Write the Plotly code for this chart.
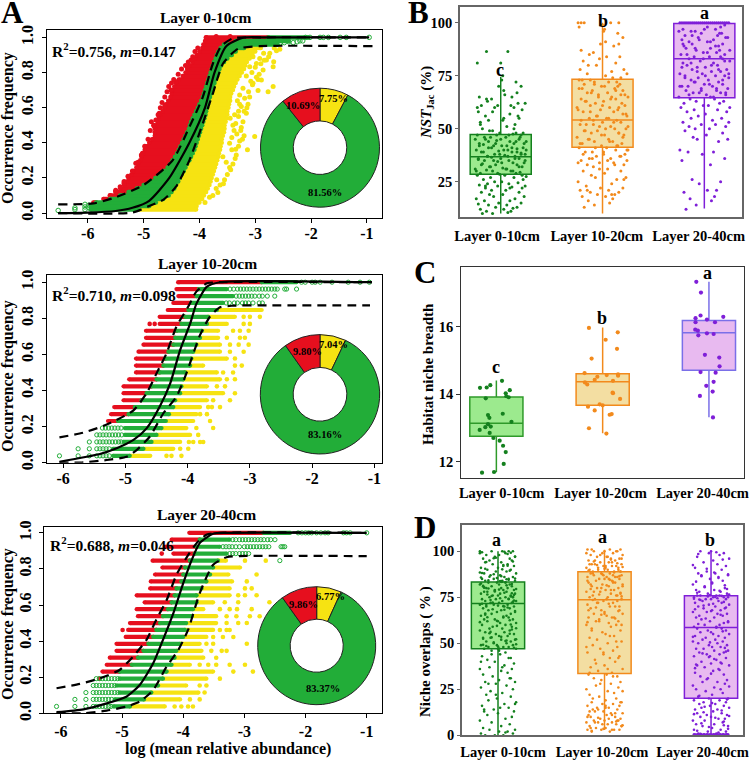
import plotly.graph_objects as go

W, H = 750, 760
SERIF = "Liberation Serif"
RED, GRN, YEL = "#e60f1e", "#22ad38", "#f6e312"
C_G, C_O, C_P = "#14801e", "#f28a1c", "#7f1fd8"
F_G, F_O, F_P = "#9cea8e", "#f3dea2", "#e8baf0"

layers = ["Layer 0-10cm", "Layer 10-20cm", "Layer 20-40cm"]

# ---------- Panel A: neutral-model fit curves ----------
a1_fit_x = [-6.53, -6, -5.5, -5.2, -4.9, -4.54, -4.18, -3.9, -3.73, -3.52, -3.22, -2.8, -0.96]
a1_fit_y = [0, .003, .012, .03, .07, .2, .4, .6, .8, .95, .998, 1, 1]
a1_up_x = [-6.53, -5.9, -5.5, -5.0, -4.48, -4.18, -3.94, -3.76, -3.61, -3.4, -3.0, -0.96]
a1_up_y = [.05, .055, .09, .16, .3, .49, .66, .85, .95, .995, 1, 1]
a1_lo_x = [-6.53, -5.2, -4.9, -4.65, -4.42, -4.18, -3.94, -3.76, -3.58, -3.31, -2.92, -0.9]
a1_lo_y = [0, .003, .04, .075, .15, .3, .51, .68, .85, .935, .95, .95]

a2_fit_x = [-6.06, -5.41, -5.14, -4.87, -4.66, -4.45, -4.28, -4.12, -3.96, -3.86, -3.69, -3.48, -1.04]
a2_fit_y = [.005, .048, .08, .126, .19, .31, .44, .625, .77, .88, .975, 1, 1]
a2_up_x = [-6.06, -5.68, -5.36, -5.14, -4.87, -4.66, -4.5, -4.34, -4.18, -3.99, -3.86, -3.69, -3.48, -1.04]
a2_up_y = [.14, .166, .203, .237, .29, .385, .495, .606, .754, .865, .948, .994, 1, 1]
a2_lo_x = [-6.06, -5.7, -5.3, -4.98, -4.82, -4.61, -4.39, -4.18, -4.02, -3.8, -3.64, -3.48, -3.27, -2.73, -1.07]
a2_lo_y = [.002, .001, .015, .033, .07, .144, .274, .366, .495, .708, .81, .861, .87, .872, .872]

a3_fit_x = [-6.07, -5.63, -5.25, -4.93, -4.71, -4.49, -4.33, -4.16, -4.0, -3.86, -3.73, -3.51, -3.29, -1.0]
a3_fit_y = [.006, .022, .055, .092, .157, .277, .407, .555, .72, .85, .943, .995, 1, 1]
a3_up_x = [-6.07, -5.69, -5.36, -5.04, -4.82, -4.6, -4.44, -4.27, -4.11, -3.95, -3.78, -3.62, -3.4, -1.0]
a3_up_y = [.139, .163, .194, .24, .314, .407, .518, .628, .767, .86, .943, .989, 1, 1]
a3_lo_x = [-6.07, -5.63, -5.25, -4.93, -4.71, -4.49, -4.27, -4.08, -3.92, -3.73, -3.51, -3.29, -2.96, -1.0]
a3_lo_y = [.002, 0, .015, .037, .065, .129, .259, .351, .462, .665, .823, .865, .872, .871]

# ---------- Panel A top: rows of occurrence frequency ----------
a1_levels = [.02, .04, .06, .08, .10, .12, .14, .16, .18, .20, .22, .24, .26, .28, .30, .32, .34, .36, .38, .40, .42, .44, .46, .48, .50,
             .52, .54, .56, .58, .60, .62, .64, .66, .68, .70, .72, .74, .76, .78, .80, .82, .84, .86, .88, .90, .92, .94, .96, .98, 1.0]
a1_red_start = [None, None, -5.9, -5.72, -5.6, -5.5, -5.42, -5.35, -5.3, -5.27, -5.22, -5.18, -5.13, -5.1, -5.06, -5.04, -5.0, -4.98, -4.95, -4.9,
                -4.85, -4.8, -4.8, -4.8, -4.78, -4.75, -4.73, -4.7, -4.66, -4.63, -4.6, -4.56, -4.52, -4.5, -4.48, -4.45, -4.42, -4.37, -4.3, -4.25,
                -4.22, -4.18, -4.12, -4.08, -4.05, -4.0, -3.95, -3.93, -3.9, -3.88]
a1_green_start = [-5.95, -5.95, -5.85, -5.6, -5.42, -5.27, -5.12, -5.0, -4.88, -4.79, -4.71, -4.64, -4.57, -4.52, -4.48, -4.44, -4.4, -4.37, -4.34, -4.31,
                  -4.28, -4.25, -4.22, -4.19, -4.17, -4.15, -4.12, -4.09, -4.06, -4.03, -4.0, -3.97, -3.94, -3.92, -3.9, -3.88, -3.86, -3.84, -3.82, -3.8,
                  -3.78, -3.76, -3.74, -3.71, -3.69, -3.66, -3.62, -3.56, -3.35, -2.77]
a1_green_end = [-5.1, -4.9, -4.78, -4.65, -4.55, -4.5, -4.45, -4.42, -4.38, -4.35, -4.32, -4.28, -4.25, -4.22, -4.18, -4.15, -4.12, -4.09, -4.07, -4.05,
                -4.03, -4.01, -3.99, -3.97, -3.95, -3.93, -3.91, -3.89, -3.88, -3.86, -3.85, -3.83, -3.81, -3.79, -3.77, -3.75, -3.73, -3.71, -3.68, -3.66,
                -3.64, -3.61, -3.56, -3.5, -3.42, -3.35, -3.2, -2.6, -2.4, -2.05]
a1_yellow_end = [-4.06, -4.05, -4.0, -3.95, -3.92, -3.88, -3.85, -3.82, -3.8, -3.78, -3.76, -3.74, -3.72, -3.7, -3.68, -3.66, -3.65, -3.63, -3.62, -3.6,
                 -3.6, -3.58, -3.56, -3.55, -3.55, -3.53, -3.52, -3.5, -3.5, -3.48, -3.47, -3.45, -3.45, -3.43, -3.4, -3.38, -3.35, -3.32, -3.28, -3.24,
                 -3.2, -3.18, -3.15, -3.1, -3.05, -3.0, -2.9, None, None, None]
a1_yellow_far_x = [-3.67, -3.57, -3.69, -3.44, -3.52, -3.58, -3.34, -3.35, -3.14, -3.46, -3.23, -3.01, -3.2, -3.25, -3.4, -3.37, -3.16, -3.25, -3.13, -3.19,
                   -3.28, -2.95, -2.77, -2.68, -3.04, -2.89, -2.98, -3.16, -2.68, -2.67, -2.86, -2.8, -2.92, -2.74, -2.62, -2.56, -2.98, -3.1, -3.04,
                   -3.9, -3.82, -3.76, -3.7, -3.63, -3.55, -3.5, -3.46, -3.4, -3.36, -3.42, -3.3, -3.28, -3.33, -3.26, -3.22, -3.3, -3.2, -3.15, -3.32,
                   -3.1, -3.22, -3.05, -2.95, -3.06, -3.0, -2.9, -2.84, -2.76, -2.66, -3.42, -3.38, -3.35, -3.45, -3.3, -3.28, -3.12, -3.08, -2.93, -2.85]
a1_yellow_far_y = [.117, .167, .19, .246, .29, .32, .33, .364, .36, .398, .42, .436, .44, .487, .5, .56, .568, .606, .62, .653,
                   .672, .697, .69, .72, .739, .758, .773, .78, .833, .862, .814, .871, .88, .909, .924, .932, .852, .833, .89,
                   .06, .09, .1, .14, .16, .19, .22, .26, .28, .31, .36, .38, .41, .45, .47, .52, .55, .58, .6, .64,
                   .66, .71, .73, .76, .8, .83, .85, .87, .89, .94, .43, .47, .51, .54, .58, .62, .69, .75, .79, .91]
a1_red_far_x = [-4.51, -4.42, -4.21, -4.15, -4.62, -4.72, -4.81, -5.02, -5.14, -5.35, -5.5, -3.88, -3.7, -3.6, -3.45,
                -5.7, -5.6, -5.5, -5.42, -5.35, -5.28, -5.2, -5.1, -5.04, -4.98, -4.92, -4.88, -4.86, -4.82, -4.78, -4.74, -4.7, -4.67, -4.62, -4.58,
                -4.55, -4.5, -4.46, -4.38, -4.32, -4.25, -4.2, -4.12, -4.08, -4.03]
a1_red_far_y = [.7, .748, .833, .871, .61, .568, .496, .341, .284, .17, .123, 1.0, 1.005, .99, 1.005,
                .075, .1, .13, .15, .18, .21, .24, .29, .33, .38, .42, .47, .52, .5, .53, .56, .6, .63, .66, .69,
                .72, .74, .76, .79, .82, .84, .86, .89, .92, .94]
a1_open_x = [-6.53, -6.23, -6.23, -6.05, -6.05, -6.05, -5.98, -5.98, -2.55, -2.48, -2.4, -2.32, -2.25, -2.2, -2.15, -2.1, -2.02, -1.84, -1.78, -1.69, -1.48, -1.37, -0.96]
a1_open_y = [.015, .02, .03, .02, .035, .05, .03, .045, .97, .97, .975, .97, .975, .98, .98, 1, 1, 1, 1, 1, 1, 1, 1]

occ_levels = [.038, .077, .115, .154, .192, .231, .269, .308, .346, .385, .423, .462, .5, .538, .577, .615, .654, .692, .731, .769, .808, .846, .885, .923, .962, 1.0]

a2_red_start = [None, None, None, None, None, -5.28, -5.23, -5.18, -5.03, -5.03, -5.03, -4.94, -4.83, -4.83, -4.83, -4.79, -4.71, -4.67, -4.67, -4.45, -4.45, -4.32, -4.23, -4.15, -4.18, -4.13]
a2_green_start = [-5.2, -5.2, -5.03, -5.01, -5.01, -5.12, -4.95, -4.85, -4.74, -4.66, -4.58, -4.5, -4.45, -4.39, -4.36, -4.31, -4.23, -4.2, -4.18, -4.1, -4.04, -3.99, -3.94, -3.86, -3.82, -2.81]
a2_green_end = [-4.93, -4.71, -4.58, -4.5, -4.42, -4.35, -4.3, -4.23, -4.2, -4.12, -4.1, -4.07, -4.04, -3.96, -3.94, -3.91, -3.86, -3.8, -3.77, -3.69, -3.67, -3.53, -3.43, -3.27, -3.37, -2.25]
a2_yellow_end = [-4.6, -4.23, -4.12, -3.96, -4.02, -3.91, -3.86, -3.8, -3.69, -3.43, -3.69, -3.48, -3.53, -3.75, -3.37, -3.48, -3.48, -3.51, -3.51, -3.37, -3.24, -2.81, None, None, None, None]
a2_open = {1: [-6.06, -5.76, -5.58, -5.46, -5.41, -5.36, -5.31, -5.26], 2: [-5.76, -5.58, -5.46, -5.41, -5.36, -5.31, -5.26],
           3: [-5.58, -5.46, -5.41, -5.36, -5.31, -5.26, -5.21, -5.16, -5.11, -5.07], 4: [-5.46, -5.41, -5.36, -5.31, -5.26, -5.21, -5.16, -5.11, -5.06],
           5: [-5.37, -5.32, -5.27, -5.22, -5.17, -5.12, -5.07],
           23: [-3.38, -3.33, -3.25, -3.2, -3.12, -3.07, -3.02, -2.95, -2.85, -2.8],
           24: [-3.22, -3.17, -3.12, -3.07, -3.02, -2.97, -2.92, -2.85, -2.8, -2.72, -2.6],
           25: [-3.32, -3.26, -3.2, -3.15, -3.1, -3.05, -3, -2.95, -2.9, -2.85, -2.8, -2.75, -2.7, -2.65, -2.6, -2.56, -2.44, -2.41, -2.25],
           26: [-2.17, -2.11, -2.0, -1.95, -1.87, -1.68, -1.42, -1.23, -1.08]}
a2_yellow_far = {1: [-4.34, -4.26, -4.1], 2: [-3.99, -4.12], 3: [-3.98, -3.91, -3.8, -3.75], 4: [-3.83], 5: [-3.59, -3.86], 6: [-3.64], 7: [-3.69, -3.8],
                 8: [-3.48, -3.67, -3.61], 9: [-3.32, -3.59], 10: [-3.24], 11: [-3.4, -3.53], 12: [-3.24, -3.37], 13: [-3.27, -3.43], 14: [-3.13, -3.24], 15: [-3.24],
                 16: [-3.1, -3.32], 17: [-3.02, -3.18, -3.32], 18: [-3.08, -3.16, -3.37], 19: [-3.02, -3.16, -3.27], 20: [-3.0, -3.1], 21: [-2.84, -3.0, -3.1]}
a2_red_far = {20: [-4.61, -4.53], 26: [-4.15]}

a3_red_start = [None, None, None, None, None, -5.32, -5.25, -5.2, -5.09, -5.09, -4.94, -4.9, -4.87, -4.74, -4.76, -4.63, -4.76, -4.54, -4.53, -4.46, -4.34, -4.5, -4.16, -4.3, -4.19, -3.9]
a3_green_start = [-5.14, -5.12, -5.04, -5.09, -5.04, -5.04, -4.84, -4.74, -4.65, -4.57, -4.49, -4.44, -4.38, -4.33, -4.25, -4.19, -4.14, -4.11, -4.03, -4.0, -3.97, -3.89, -3.81, -3.78, -3.73, -2.69]
a3_green_end = [-4.87, -4.64, -4.52, -4.41, -4.33, -4.27, -4.19, -4.14, -4.11, -4.05, -4.0, -3.97, -3.95, -3.86, -3.84, -3.78, -3.78, -3.7, -3.62, -3.56, -3.51, -3.43, -3.29, -3.4, -3.24, -2.25]
a3_yellow_end = [-4.3, -4.05, -3.75, -3.95, -3.62, -3.51, -3.89, -3.67, -3.7, -3.73, -3.62, -3.51, -3.46, -3.46, -3.67, -3.51, -3.24, -3.24, -3.2, -3.26, -3.07, -3.3, None, None, None, None]
a3_open = {1: [-6.07, -5.77, -5.59, -5.47, -5.42, -5.37, -5.32, -5.27, -5.22, -5.18], 2: [-5.77, -5.59, -5.47, -5.42, -5.37, -5.32, -5.27, -5.22, -5.17],
           3: [-5.59, -5.47, -5.42, -5.37, -5.32, -5.27, -5.22, -5.17, -5.12, -5.07], 4: [-5.47, -5.42, -5.37, -5.32, -5.27, -5.22, -5.17, -5.12],
           5: [-5.42, -5.37, -5.32, -5.27, -5.22, -5.17, -5.12, -5.07], 22: [-2.42],
           23: [-3.24, -3.19, -3.14, -3.08, -3.03, -2.98, -2.93],
           24: [-3.35, -3.3, -3.25, -3.2, -3.14, -3.08, -3.0, -2.95, -2.9, -2.85, -2.8, -2.75, -2.7, -2.65, -2.6, -2.4, -2.37, -2.34],
           25: [-3.19, -3.14, -3.08, -3.03, -2.98, -2.93, -2.88, -2.83, -2.78, -2.73, -2.68, -2.62, -2.57, -2.5],
           26: [-2.12, -2.06, -2.0, -1.95, -1.9, -1.82, -1.75, -1.68, -1.63, -1.38, -1.33, -1.27, -1.0]}
a3_yellow_far = {1: [-4.14, -4.03, -3.92, -3.84], 2: [-3.89, -3.73], 3: [-3.65], 4: [-3.73, -3.62], 5: [-3.4], 6: [-3.18, -2.86], 7: [-3.73, -3.59, -3.46, -3.24, -2.99],
                 8: [-3.46], 9: [-3.54, -3.37, -3.29], 10: [-3.62, -3.51, -2.96], 11: [-3.51, -3.35, -3.18], 12: [-3.4, -3.29, -3.24], 13: [-3.29, -3.1, -2.96],
                 14: [-3.29, -3.13, -2.91, -2.75], 15: [-3.4, -3.24, -3.12, -2.88], 16: [-3.32, -3.1, -2.59], 17: [-3.1, -2.99, -2.8], 18: [-2.99, -2.88], 19: [-2.96],
                 20: [-2.8], 22: [-2.99, -2.65]}
a3_red_far = {5: [-5.37], 12: [-4.99], 23: [-4.35]}

pie_labels = ["Below", "Within", "Above"]
pie_a1 = [7.75, 81.56, 10.69]
pie_a2 = [7.04, 83.16, 9.80]
pie_a3 = [6.77, 83.37, 9.86]

# ---------- Panel B ----------
b_q1 = [28.5, 41.2, 64.6]
b_med = [36.8, 54.1, 83.0]
b_q3 = [47.3, 73.3, 99.7]
b_lo = [10, 10, 12.4]
b_hi = [74.5, 100, 100]
jitter_b = [-18, -8, 7, -14, 10, -20, 3, 12, -5, 16, -12, 6, -22, 20, -2, -16, 9, -24, 14, -7, 23, -11, 2, 18, -19, 5, -9, 21, -15, 11, -3, 24, -21, 8, -13, 17, -6, 1, 22, -17,
            -10, 13, 25, -23, 4, -1, 15, -20, 19, -8, 10, -14, 6, -25, 2, 21, -11, 16, -5, -18, 12, 23, -3, 8, -16, -22, 18, 0, -9, 14, -13, 4, 24, -6, 20, -19, 11, -2, -24, 7,
            16, -12, 22, -7, 1, -17, 13, -21, 9, 25, -4, 18, -15, 5, -10, 20, -23, 12, -1, 15, -8, -18, 6, 14, -20, -12, 18, 3, -15, 9, -22, 21, -6, 13, -19, -3, 17, -13, -9, -21,
            11, 16, 3, 20, 15, 1, 2, -23, 0, -14, 7, -17, 19, -4, 24, -11, 10, -25, 5, 17, -7, 22, -16, 2, 13, -20, 8, -2, 23, -12, 15, -18, 4, -9, 19, -24, 11, -5, 21, -15]
jitter_b2 = [9, -15, 21, -3, 12, -24, 5, -10, 18, -19, 1, 24, -7, 14, -22, 7, -13, 20, -1, 16, -17, 3, 25, -9, 11, -21, 6, -5, 23, -12, 15, -25, 0, 19, -16, 8, -4, 22, -11, 13,
             -20, 2, 17, -8, -23, 10, 24, -14, 4, -2, 21, -18, 7, 16, -6, -24, 12, 1, -10, 20, -15, 5, 23, -3, 14, -19, 9, -12, 18, -22, 3, 25, -7, 11, -17, 6, -1, 15, -13, 22]
b_green = [10, 10, 10.5, 11, 11, 12, 12, 12.5, 13, 13, 14, 14, 14.5, 15, 15, 16, 16, 17, 17, 18, 18, 19, 19, 20, 20, 21, 21, 22, 22, 22.5, 23, 23, 23.5, 24, 24, 24.5, 25, 25, 26, 26,
           27, 27, 27.5, 28, 28, 28.5, 29, 29, 29.5, 30, 30, 30.5, 31, 31, 31.5, 32, 32, 33, 33, 33.5, 34, 34, 34.5, 35, 35, 35.5, 36, 36, 36.5, 37, 37, 37.5, 38, 38, 38.5, 39, 39, 39.5, 40, 40,
           40.5, 41, 41, 42, 42, 42.5, 43, 43, 44, 44, 44.5, 45, 45, 46, 46, 47, 47, 47.5, 48, 48, 49, 50, 51, 52, 53, 54, 55, 55, 56, 57, 58, 59, 60, 60, 61, 61, 62, 63, 64, 65,
           65, 67, 68, 70, 72, 73, 75, 81, 81, 86.4, 86.4]
b_green2 = [22, 23, 28, 29, 30, 30, 31, 32, 32, 33, 34, 35, 35, 36, 36, 37, 37, 38, 38, 39, 39, 40, 40, 41, 41, 42, 42, 43, 43, 44, 44, 45, 45, 46, 46, 47, 47, 48, 49, 50,
            52, 54, 56, 58, 60, 61, 62, 64, 66, 70]
b_orange = [13, 14, 15, 16, 17, 18, 18, 19, 19, 20, 20, 21, 21, 22, 22, 23, 24, 25, 26, 27, 27, 28, 29, 30, 30, 31, 32, 33, 33, 34, 34, 35, 35, 36, 36, 37, 37, 38, 38, 39,
            39, 40, 40, 41, 41, 42, 42, 43, 43, 44, 44, 45, 45, 46, 47, 47, 48, 48, 49, 49, 50, 50, 51, 51, 52, 52, 53, 53, 54, 54, 55, 55, 56, 56, 57, 58, 58, 59, 59, 60,
            60, 61, 61, 62, 63, 63, 64, 64, 65, 65, 66, 66, 67, 67, 68, 68, 69, 69, 70, 70, 71, 71, 72, 72, 73, 73, 74, 75, 76, 77, 78, 78, 80, 81, 82, 83, 84, 85, 86, 87,
            89, 90, 91, 93, 95, 96, 97, 98, 99]
b_orange2 = [19, 21, 26, 31, 33, 34, 35, 36, 37, 38, 39, 40, 41, 42, 43, 44, 45, 46, 47, 48, 49, 50, 51, 52, 53, 54, 55, 56, 57, 58, 59, 60, 61, 62, 63, 64, 65, 66, 67, 68,
             69, 70, 71, 72, 73, 74, 76, 80, 84, 90]
b_orange_top_jitter = [-24, -21, -18, 8, 16]
b_purple = [12, 14, 16, 17, 18, 20, 21, 21, 24, 25, 26, 33, 35, 36, 38, 39, 39, 40, 44, 45, 45, 46, 47, 48, 49, 50, 50, 51, 51, 52, 52, 53, 53, 54, 55, 55, 56, 57, 58, 58,
            59, 59, 60, 60, 61, 61, 62, 62, 63, 63, 64, 64, 65, 65, 66, 66, 67, 67, 67, 68, 68, 69, 69, 70, 70, 70, 71, 71, 72, 72, 73, 73, 74, 74, 75, 75, 75, 76, 76, 77,
            77, 78, 78, 79, 79, 80, 80, 81, 81, 82, 82, 83, 83, 84, 84, 85, 85, 86, 86, 87, 87, 88, 88, 89, 89, 90, 90, 91, 91, 92, 92, 93, 93, 94, 94, 95, 95, 96, 96, 97,
            97, 98, 98, 99]
b_purple2 = [65, 66, 67, 68, 69, 70, 71, 72, 73, 74, 75, 76, 77, 78, 79, 80, 81, 82, 83, 84, 85, 86, 87, 88, 89, 90, 91, 92, 93, 94, 95, 96, 97]
b_purple_top_jitter = [-24, -22, -20, -18, -16, -14, -12, -10, -8, -6, -4, -2, 0, 2, 4, 6, 8, 10, 12, 14, 16, 18, 20, 22, 24]

# ---------- Panel C ----------
c_q1 = [12.75, 13.67, 14.71]
c_med = [13.14, 14.37, 15.83]
c_q3 = [13.92, 14.61, 16.19]
c_lo = [11.68, 12.84, 13.32]
c_hi = [14.41, 15.98, 17.34]
c_green = [11.67, 11.69, 11.93, 12.28, 12.47, 12.62, 12.7, 12.85, 12.94, 13.02, 13.04, 13.11, 13.18, 13.3, 13.38, 13.42, 13.88, 14.03, 13.91, 13.94, 14.12, 14.19, 14.2, 14.27, 14.4]
c_green_j = [-.135, -.022, .069, .088, .063, .031, -.028, -.063, -.157, -.104, -.053, -.079, .142, -.066, -.079, .06, -.1, .088, .116, .094, .126, -.154, -.091, -.057, .053]
c_orange = [12.83, 12.99, 13.39, 13.41, 13.52, 13.63, 13.7, 13.67, 13.86, 14.05, 14.03, 14.29, 14.35, 14.43, 14.52, 14.63, 14.57, 14.4, 14.59, 14.55, 15.06, 15.35, 15.62, 15.84, 15.97]
c_orange_j = [.035, -.129, .066, .085, -.075, -.138, -.028, 0, .164, .094, .097, -.145, -.167, -.075, -.05, -.17, .038, .097, .145, .145, -.104, .135, .028, .142, -.129]
c_purple = [13.31, 13.95, 14.08, 14.25, 14.37, 14.66, 14.64, 14.83, 15.09, 15.17, 15.92, 15.89, 15.75, 15.79, 15.81, 16.14, 16.14, 16.22, 16.26, 16.34, 16.3, 17.02, 17.34]
c_purple_j = [.038, -.085, .035, -.025, .044, -.079, .063, .1, .097, -.038, -.129, -.104, -.1, .044, -.019, -.126, .057, -.019, -.126, -.079, .135, -.075, -.119]

# ---------- Panel D ----------
d_q1 = [47, 33.6, 20.1]
d_med = [71.7, 73.7, 58.6]
d_q3 = [83.3, 88.9, 75.9]
d_lo = [0, 2.9, 0]
d_hi = [100, 100.9, 100]
jitter_d = [-12, 5, -3, 14, -16, 9, 1, -8, 16, -14, 3, 11, -6, -17, 7, 13, -10, 0, 15, -4, -13, 10, 2, -15, 6, 17, -9, -1, 12, -11, 4, -7, 14, -16, 8, -2, 16, -12, 1, 11,
            -5, -14, 9, 3, -17, 13, -8, 6, 15, -3, -10, 12, -15, 2, 7, -6, 17, -13, 0, 10, -9, 5, 14, -1, -16, 8, -4, 12, -11, 3, 16, -7, -14, 9, 1, -2, 15, -12, 6, -17,
            11, 4, -8, 13, -5, -15, 7, 2, 17, -10, 0, 14, -3, -13, 10, 5, -16, 8, -6, 12, -1, 16, -9, 3, -14, 11, -11, 6, 15, -4, -17, 9, 1, 13, -7, -12, 4, 17, -2, 10,
            -15, 7, -8, 14, 0, -5, 12, -16, 2, 16, -10, 8, -13, 5, -3, 15, -11, 9, 3, -14, 13, -6, -17, 1, 11, -1, 7, -9, 16, -12, 4, -4, 10, -15, 14, 6, -7, 2, 17, -13,
            8, -2, 12, -10, 0, -16, 15, 5, -5, 9, -12, 3, 13, -8, -14, 11, -3, 16, 1, -11, 7, -17, 4, 14, -6, 10, -1, -15, 6, 12, -9, 2, 17, -4, 8, -13, 15, 0, -7, 5]
jitter_d2 = [7, -13, 16, -2, -9, 12, 4, -16, 10, -6, 1, 15, -11, 17, -4, 8, -14, 3, -8, 13, -1, -17, 11, 5, -12, 16, -5, 9, 0, -15, 14, -7, 2, 12, -10, 6, -3, 17, -13, 8,
             -16, 4, 10, -1, -11, 15, -6, 13, 1, -14, 7, -9, 16, 3, -4, -17, 11, -12, 5, 14, -2, 9, -15, 0, 17, -7, 12, -10, 6, -5, 15, -13, 2, 8, -16, 10, -3, 13, -8, 4,
             -11, 16, 1, -14, 7, -6, 11, 17, -1, -12, 5, 14, -9, 3, -15, 9, -4, 12, -17, 6, -7, 15, 0, -13, 10, -2, 16, -10, 8, 2, -16, 13, -5, 4, -11, 17, -8, 11, -3, 7,
             -14, 1, 14, -6, 9, -12, 5, -1, 15, -9, 12, -15, 3, 16, -4, 6, -13, 10, 0, -7, 17, -11, 8, 2, -16, 13, -2, 5, -10, 11]
d_green = [0, 0, 0, 1, 1, 2, 2, 3, 3, 4, 5, 6, 7, 8, 9, 10, 11, 12, 13, 14, 14, 15, 15, 16, 17, 18, 19, 20, 21, 22, 23, 24, 25, 26, 27, 28, 29, 29, 30, 31,
           32, 33, 34, 35, 36, 36, 37, 38, 39, 40, 41, 42, 43, 44, 45, 46, 47, 47, 47, 48, 48, 48, 49, 49, 49, 50, 50, 51, 51, 52, 52, 53, 53, 54, 54, 55, 55, 56, 56, 57,
           57, 58, 58, 59, 59, 60, 60, 61, 61, 62, 62, 63, 63, 63, 64, 64, 65, 65, 66, 66, 67, 67, 68, 68, 69, 69, 70, 70, 70, 71, 71, 71, 72, 72, 72, 73, 73, 73, 74, 74,
           74, 75, 75, 75, 76, 76, 76, 77, 77, 77, 78, 78, 78, 79, 79, 79, 80, 80, 80, 81, 81, 81, 82, 82, 82, 83, 83, 83, 84, 84, 84, 85, 85, 85, 86, 86, 87, 87, 88, 88,
           89, 89, 90, 90, 91, 91, 92, 92, 93, 93, 94, 94, 95, 95, 96, 96, 97, 97, 98, 98, 99, 99, 100, 100, 100, 100]
d_green2 = [1.5, 13, 17, 22, 28, 31, 37, 40, 42, 44, 46, 47.5, 48.5, 49.5, 50.5, 51.5, 52.5, 53.5, 55.5, 57.5, 59.5, 61.5, 62.5, 64.5, 65.5, 67.5, 68.5, 69.5, 70.5, 71.5, 72.5, 73.5, 74.5, 75.5, 76.5, 77.5, 78.5, 79.5, 80.5, 81.5,
            82.5, 83.5, 84.5, 85.5, 70.8, 73.2, 75.7, 77.2, 79.2, 81.2, 83.2, 84.2, 85.2, 86.5, 87.5, 88.5, 89.5, 90.5, 92.5, 94.5, 96.5, 98.5, 99.5, 48.2, 52.2, 56.2, 60.2, 64.2, 68.2, 72.2, 76.2, 80.2, 83.8, 84.8, 85.8, 74.2, 78.2, 82.2, 86.2, 90.2,
            94.2, 97.2, 47.2, 49.2, 51.2, 53.2, 55.2, 58.2, 62.2, 66.2, 70.2, 75.2, 79.8, 83.4, 88.2, 92.2, 96.2, 99.2, 100, 99.8]
d_orange = [2, 2, 3, 3, 3, 3, 4, 4, 5, 5, 6, 6, 7, 7, 7, 8, 8, 8, 9, 9, 10, 10, 11, 11, 12, 12, 13, 13, 14, 14, 15, 15, 16, 16, 17, 17, 18, 18, 19, 20,
            21, 22, 23, 24, 25, 26, 27, 28, 29, 30, 31, 32, 33, 33, 34, 35, 36, 37, 38, 40, 41, 42, 43, 44, 45, 46, 47, 48, 49, 50, 51, 52, 53, 54, 55, 56, 57, 58, 59, 60,
            60, 61, 62, 62, 63, 64, 64, 65, 66, 66, 67, 68, 68, 69, 70, 70, 71, 72, 72, 73, 73, 74, 74, 75, 75, 76, 76, 77, 77, 78, 78, 79, 79, 80, 80, 81, 81, 82, 82, 83,
            83, 84, 84, 85, 85, 85, 86, 86, 86, 87, 87, 87, 88, 88, 88, 89, 89, 89, 90, 90, 90, 91, 91, 91, 92, 92, 92, 93, 93, 93, 94, 94, 95, 95, 96, 96, 97, 97, 98, 98,
            99, 99, 100, 100, 100, 101, 101, 101]
d_orange2 = [3, 4, 5, 6, 7, 8, 9, 10, 12, 14, 16, 18, 20, 24, 28, 32, 34, 36, 39, 42, 45, 48, 51, 54, 57, 60, 62, 64, 66, 68, 70, 72, 74, 76, 78, 79, 80, 81, 82, 83,
             84, 85, 86, 87, 88, 89, 90, 91, 92, 93, 94, 95, 96, 97, 98, 99, 100, 101, 84.5, 86.5, 87.5, 88.5, 89.5, 90.5, 91.5, 92.5, 93.5, 94.5, 95.5, 76.5, 77.5, 79.5, 81.5, 83.5, 61.5, 63.5, 65.5, 67.5, 69.5, 71.5,
             73.5, 75.5, 15, 13, 11, 9.5, 7.5, 5.5, 3.5, 2.5]
d_purple = [1, 1, 2, 2, 3, 3, 4, 5, 5, 6, 6, 7, 8, 8, 9, 9, 10, 10, 11, 11, 12, 12, 13, 14, 14, 15, 15, 16, 16, 17, 17, 18, 18, 19, 19, 20, 20, 21, 22, 23,
            24, 25, 25, 26, 27, 28, 29, 29, 30, 31, 32, 33, 34, 35, 36, 37, 38, 38, 39, 39, 40, 41, 42, 43, 43, 44, 44, 45, 45, 46, 46, 47, 47, 48, 48, 49, 49, 50, 50, 51,
            51, 52, 52, 53, 53, 54, 54, 55, 55, 56, 56, 57, 57, 58, 58, 59, 59, 60, 60, 61, 62, 62, 63, 64, 64, 65, 65, 66, 66, 67, 67, 68, 68, 69, 69, 70, 70, 71, 71, 72,
            72, 73, 73, 74, 74, 74, 75, 75, 75, 75, 76, 76, 76, 76, 77, 77, 78, 78, 79, 79, 80, 81, 82, 83, 84, 85, 86, 87, 87, 88, 88, 89, 90, 91, 92, 93, 94, 95, 96, 97,
            98, 99, 99, 100, 100]
d_purple2 = [1.5, 2.5, 3.5, 4.5, 6.5, 7.5, 9.5, 11.5, 13.5, 15.5, 17.5, 19.5, 21.5, 26.5, 30.5, 35.5, 38.5, 41.5, 44.5, 47.5, 50.5, 53.5, 56.5, 58.5, 60.5, 61.5, 63.5, 65.5, 67.5, 68.5, 69.5, 70.5, 71.5, 72.5, 73.5, 74.5, 75.5, 76.5, 77.5, 78.5,
             74.2, 75.2, 75.8, 76.2, 73.8, 79.5, 80.5, 81.5, 82.5, 83.5, 85.5, 86.5, 87.5, 88.5, 90.5, 92.5, 95.5, 98.5, 99.5, 45.5, 42.5, 39.5, 36.5, 33.5, 10.5, 12.5, 5.5, 0.8]
d_purple_floor_jitter = [-16, -15, -13, -12, -10, -9, -7, -6, -4, -3, -1, 0, 2, 3, 5, 6, 8, 9, 11, 12, 14, 15, 16]

fig = go.Figure()
layout = {}


def px_x(v):
    return v / W


def px_y(v):
    return 1 - v / H


def add_axes(n, box, xr, yr, xticks, xtext, yticks, ytext, line, lw, size, ang=None, xlen=5, ylen=5, xoff=0, yoff=0):
    l, r, t, b = box
    sfx = "" if n == 1 else str(n)
    layout["xaxis" + sfx] = dict(domain=[px_x(l), px_x(r)], range=xr, anchor="y" + sfx, tickmode="array", tickvals=xticks, ticktext=xtext, automargin=False,
                                 ticks="outside" if xlen else "", ticklen=xlen, tickcolor=line, showgrid=False, zeroline=False, showline=True, mirror=True, ticklabelstandoff=xoff,
                                 linecolor=line, linewidth=lw, tickfont=dict(family=SERIF, size=size, color="black", weight="bold"), tickangle=0)
    layout["yaxis" + sfx] = dict(domain=[px_y(b), px_y(t)], range=yr, anchor="x" + sfx, tickmode="array", tickvals=yticks, ticktext=ytext, automargin=False,
                                 ticks="outside", ticklen=ylen, tickcolor=line, showgrid=False, zeroline=False, showline=True, mirror=True, ticklabelstandoff=yoff,
                                 linecolor=line, linewidth=lw, tickfont=dict(family=SERIF, size=size, color="black", weight="bold"), tickangle=ang if ang is not None else 0)
    return "x" + sfx, "y" + sfx


def runs(levels, a, b):
    xs, ys = [], []
    for y, x0, x1 in zip(levels, a, b):
        if x0 is None or x1 is None:
            continue
        xs += [x0, x1, None]
        ys += [y, y, None]
    return xs, ys


def add_runs(levels, a, b, color, ax, ay, w):
    xs, ys = runs(levels, a, b)
    fig.add_trace(go.Scatter(x=xs, y=ys, mode="lines+markers", line=dict(color=color, width=w), marker=dict(color=color, size=w),
                             xaxis=ax, yaxis=ay, showlegend=False, hoverinfo="skip"))


def add_pts(xs, ys, color, ax, ay, size, opened=False):
    m = dict(color="rgba(255,255,255,0)" if opened else color, size=size, line=dict(color=color, width=1 if opened else 0))
    fig.add_trace(go.Scatter(x=xs, y=ys, mode="markers", marker=m, xaxis=ax, yaxis=ay, showlegend=False, hoverinfo="skip"))


def expand(d):
    xs, ys = [], []
    for k, vals in d.items():
        xs += vals
        ys += [occ_levels[k - 1]] * len(vals)
    return xs, ys


def add_curves(fx, fy, ux, uy, lx, ly, ax, ay):
    dash = dict(color="black", width=2.2, dash="9px,6px", shape="spline", smoothing=0.6)
    fig.add_trace(go.Scatter(x=ux, y=uy, mode="lines", line=dash, xaxis=ax, yaxis=ay, showlegend=False, hoverinfo="skip"))
    fig.add_trace(go.Scatter(x=lx, y=ly, mode="lines", line=dash, xaxis=ax, yaxis=ay, showlegend=False, hoverinfo="skip"))
    fig.add_trace(go.Scatter(x=fx, y=fy, mode="lines", line=dict(color="black", width=2.2, shape="spline", smoothing=0.6), xaxis=ax, yaxis=ay, showlegend=False, hoverinfo="skip"))


def add_pie(vals, labels, cx, cy, r):
    fig.add_trace(go.Pie(values=vals, labels=labels, sort=False, direction="clockwise", rotation=0, hole=0.45, textinfo="none", hoverinfo="skip",
                         marker=dict(colors=[YEL, GRN, RED], line=dict(color="#222", width=1)), showlegend=False,
                         domain=dict(x=[px_x(cx - r), px_x(cx + r)], y=[px_y(cy + r), px_y(cy - r)])))


def note(text, x, y, size, angle=0, xanchor="center"):
    layout.setdefault("annotations", []).append(dict(text=text, x=px_x(x), y=px_y(y), xref="paper", yref="paper", showarrow=False, xanchor=xanchor, yanchor="middle",
                                                     textangle=angle, font=dict(family=SERIF, size=size, color="black", weight="bold")))


occ_ticks = [0, .2, .4, .6, .8, 1]
occ_text = ["0.0", "0.2", "0.4", "0.6", "0.8", "1.0"]
log_ticks = [-6, -5, -4, -3, -2, -1]
log_text = ["-6", "-5", "-4", "-3", "-2", "-1"]

# A1
ax, ay = add_axes(1, (47, 382, 30, 218), [-6.73, -0.73], [-.028, 1.042], log_ticks, log_text, occ_ticks, occ_text, "black", 1.3, 16, ang=-90, xlen=4, ylen=4, xoff=-3, yoff=2)
add_runs(a1_levels, a1_red_start, a1_green_start, RED, ax, ay, 4.5)
add_pts(a1_red_far_x, a1_red_far_y, RED, ax, ay, 5)
add_runs(a1_levels, a1_green_end, a1_yellow_end, YEL, ax, ay, 4.5)
add_pts(a1_yellow_far_x, a1_yellow_far_y, YEL, ax, ay, 5)
add_runs(a1_levels, a1_green_start, a1_green_end, GRN, ax, ay, 4.5)
add_pts(a1_open_x, a1_open_y, GRN, ax, ay, 4.5, True)
add_curves(a1_fit_x, a1_fit_y, a1_up_x, a1_up_y, a1_lo_x, a1_lo_y, ax, ay)

# A2
for n, box, xr, yr, rs, gs, ge, ye, op, yf, rf, fit, xo in [
    (2, (47, 382, 275, 462.7), [-6.26, -0.877], [0, 1.04], a2_red_start, a2_green_start, a2_green_end, a2_yellow_end, a2_open, a2_yellow_far, a2_red_far,
     (a2_fit_x, a2_fit_y, a2_up_x, a2_up_y, a2_lo_x, a2_lo_y), -3),
    (3, (44.3, 382, 526.7, 713.3), [-6.27, -0.75], [0, 1.034], a3_red_start, a3_green_start, a3_green_end, a3_yellow_end, a3_open, a3_yellow_far, a3_red_far,
     (a3_fit_x, a3_fit_y, a3_up_x, a3_up_y, a3_lo_x, a3_lo_y), -1),
]:
    ax, ay = add_axes(n, box, xr, yr, log_ticks, log_text, occ_ticks, occ_text, "black", 1.3, 16, ang=-90, xlen=4, ylen=4, xoff=xo, yoff=2)
    add_runs(occ_levels, rs, gs, RED, ax, ay, 4.2)
    add_pts(*expand(rf), RED, ax, ay, 4.6)
    add_runs(occ_levels, ge, ye, YEL, ax, ay, 4.2)
    add_pts(*expand(yf), YEL, ax, ay, 4.6)
    add_runs(occ_levels, gs, ge, GRN, ax, ay, 4.2)
    add_pts(*expand(op), GRN, ax, ay, 4.2, True)
    add_curves(*fit, ax, ay)

add_pie(pie_a1, pie_labels, 320, 147.7, 59.5)
add_pie(pie_a2, pie_labels, 320, 394.3, 59.7)
add_pie(pie_a3, pie_labels, 316.7, 645.7, 59)


def add_boxes(ax, ay, q1, med, q3, lo, hi, lines, fills, width):
    for i in range(3):
        fig.add_trace(go.Box(x=[i], q1=[q1[i]], median=[med[i]], q3=[q3[i]], lowerfence=[lo[i]], upperfence=[hi[i]], width=width, whiskerwidth=0,
                             fillcolor=fills[i], line=dict(color=lines[i], width=1.5), boxpoints=False, xaxis=ax, yaxis=ay, showlegend=False, hoverinfo="skip"))


def jit(center, jitter, values, scale):
    pairs = list(zip(jitter, values))
    return [center + j * scale for j, _ in pairs], [v for _, v in pairs]


# B
ax, ay = add_axes(4, (460, 742.3, 7.3, 217.3), [-.4, 2.373], [8.2, 107.3], [-.036, .944, 1.945], layers, [25, 50, 75, 100], ["25", "50", "75", "100"], "#666", 1.6, 14.5, xlen=0, ylen=3, xoff=4)
add_boxes(ax, ay, b_q1, b_med, b_q3, b_lo, b_hi, [C_G, C_O, C_P], [F_G, F_O, F_P], 0.6)
for i, (vals, vals2, c) in enumerate([(b_green, b_green2, C_G), (b_orange, b_orange2, C_O), (b_purple, b_purple2, C_P)]):
    xs, ys = jit(i, jitter_b, vals, 0.01)
    add_pts(xs, ys, c, ax, ay, 3)
    xs, ys = jit(i, jitter_b2, vals2, 0.01)
    add_pts(xs, ys, c, ax, ay, 3)
xs, ys = jit(1, b_orange_top_jitter, [100] * len(b_orange_top_jitter), 0.01)
add_pts(xs, ys, C_O, ax, ay, 3)
xs, ys = jit(2, b_purple_top_jitter, [100] * len(b_purple_top_jitter), 0.01)
add_pts(xs, ys, C_P, ax, ay, 3)

# C
ax, ay = add_axes(5, (461.3, 743.7, 266.7, 477.7), [-.33, 2.327], [11.52, 17.79], [.05, .98, 1.94], layers, [12, 14, 16], ["12", "14", "16"], "#333", 1.2, 14.5, xlen=0, ylen=4, xoff=2)
add_boxes(ax, ay, c_q1, c_med, c_q3, c_lo, c_hi, ["#2f9a2a", C_O, "#7a6fe8"], [F_G, F_O, F_P], 0.5)
for i, (vals, jj, c) in enumerate([(c_green, c_green_j, C_G), (c_orange, c_orange_j, C_O), (c_purple, c_purple_j, C_P)]):
    xs, ys = jit(i, jj, vals, 1)
    add_pts(xs, ys, c, ax, ay, 4.2)

# D
ax, ay = add_axes(6, (462, 743.3, 525, 735.3), [-.338, 2.303], [0, 114.3], [.047, .977, 1.92], layers, [0, 25, 50, 75, 100], ["0", "25", "50", "75", "100"], "#666", 1.6, 14.5, xlen=0, ylen=3, xoff=2)
add_boxes(ax, ay, d_q1, d_med, d_q3, d_lo, d_hi, [C_G, C_O, C_P], [F_G, F_O, F_P], 0.5)
for i, (vals, vals2, c) in enumerate([(d_green, d_green2, C_G), (d_orange, d_orange2, C_O), (d_purple, d_purple2, C_P)]):
    xs, ys = jit(i, jitter_d, vals, 0.01)
    add_pts(xs, ys, c, ax, ay, 2.6)
    xs, ys = jit(i, jitter_d2, vals2, 0.01)
    add_pts(xs, ys, c, ax, ay, 2.6)
xs, ys = jit(2, d_purple_floor_jitter, [.5] * len(d_purple_floor_jitter), 0.01)
add_pts(xs, ys, C_P, ax, ay, 3)

# Texts
for txt, x, y in [("A", 12, 13), ("B", 418, 12), ("C", 425, 272), ("D", 425, 527)]:
    note(txt, x, y, 31)
for txt, x, y in [(layers[0], 205, 18), (layers[1], 207, 263), (layers[2], 206, 514)]:
    note(txt, x, y, 15.5)
note("R<sup>2</sup>=0.756, <i>m</i>=0.147", 50, 50, 15.5, xanchor="left")
note("R<sup>2</sup>=0.710, <i>m</i>=0.098", 50, 294, 15.5, xanchor="left")
note("R<sup>2</sup>=0.688, <i>m</i>=0.046", 48, 544, 15.5, xanchor="left")
for y in (128, 376, 624):
    note("Occurrence frequency", 8, y, 16, angle=-90)
note("log (mean relative abundance)", 228, 749, 16)
for t, x, y in [("10.69%", 303, 106), ("7.75%", 333, 98.7), ("81.56%", 325, 192.7), ("9.80%", 307, 351.7), ("7.04%", 333, 344), ("83.16%", 325, 435),
                ("9.86%", 303, 604), ("6.77%", 330, 596), ("83.37%", 323, 688)]:
    note(t, x, y, 10.5)
note("<i>NST</i><sub>Jac</sub> (%)", 427, 103, 15, angle=-90)
note("Habitat niche breadth", 428, 374, 15, angle=-90)
note("Niche overlaps ( % )", 425, 652, 15, angle=-90)
for t, x, y in [("c", 500, 70), ("b", 602.7, 21), ("a", 704, 13), ("c", 495.7, 367), ("b", 601.7, 318), ("a", 707.7, 273), ("a", 496.7, 540), ("a", 602.7, 537), ("b", 710, 540)]:
    note(t, x, y, 18)

fig.update_layout(width=W, height=H, autosize=False, margin=dict(l=0, r=0, t=0, b=0), paper_bgcolor="white", plot_bgcolor="white", showlegend=False, **layout)
fig.write_html("out.html", post_script="document.body.style.margin='0';", config=dict(displayModeBar=False))
